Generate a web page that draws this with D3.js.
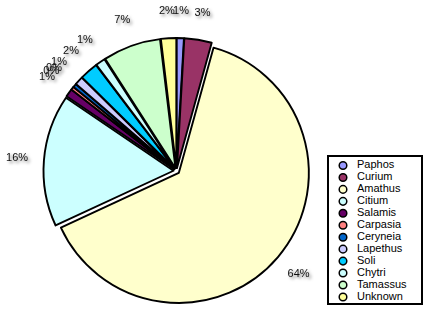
<!DOCTYPE html>
<html><head><meta charset="utf-8">
<script src="https://cdn.jsdelivr.net/npm/d3@7"></script>
<style>body{margin:0;background:#fff}svg{display:block}</style>
</head><body>
<script>
const categories = ["Paphos","Curium","Amathus","Citium","Salamis","Carpasia","Ceryneia","Lapethus","Soli","Chytri","Tamassus","Unknown"];
const values = [0.9,3.4,63.75,16.4,1.0,0.4,0.45,1.05,2.3,1.2,7.2,1.9];
const labels = ["1%","3%","64%","16%","1%","0%","0%","1%","2%","1%","7%","2%"];
const colors = ["#9999FF","#993366","#FFFFCC","#CCFFFF","#660066","#FF8080","#0066CC","#CCCCFF","#00CCFF","#CCFFFF","#CCFFCC","#FFFF99"];

const W = 430, H = 315;
const cx = 176.5, cy = 171, R = 130, explode = 3, labelR = 160;
const svg = d3.select("body").append("svg").attr("width", W).attr("height", H);
const defs = svg.append("defs");
const f = defs.append("filter").attr("id","ts").attr("x","-50%").attr("y","-50%").attr("width","200%").attr("height","200%");
f.append("feDropShadow").attr("dx",2).attr("dy",2).attr("stdDeviation",1.8).attr("flood-color","#000").attr("flood-opacity",0.5);

const data = categories.map((c,i)=>({name:c, value:values[i], label:labels[i], color:colors[i]}));
const pie = d3.pie().sort(null).value(d=>d.value);
const arcs = pie(data);
const arc = d3.arc().innerRadius(0).outerRadius(R);
const g = svg.append("g").attr("transform", `translate(${cx},${cy})`);
g.selectAll("path").data(arcs).join("path")
  .attr("d", arc)
  .attr("fill", d=>d.data.color)
  .attr("stroke", "#000").attr("stroke-width", 1.9).attr("stroke-linejoin","round")
  .attr("transform", d=>{const a=(d.startAngle+d.endAngle)/2; return `translate(${explode*Math.sin(a)},${-explode*Math.cos(a)})`;});

g.selectAll("text.lab").data(arcs).join("text").attr("class","lab")
  .attr("x", d=>{const a=(d.startAngle+d.endAngle)/2; return labelR*Math.sin(a);})
  .attr("y", d=>{const a=(d.startAngle+d.endAngle)/2; return -labelR*Math.cos(a);})
  .attr("text-anchor","middle").attr("dominant-baseline","middle")
  .attr("font-family","Liberation Sans, Arial, sans-serif").attr("font-size",11).attr("fill","#111")
  .attr("filter","url(#ts)")
  .text(d=>d.data.label);

// legend
const lx = 328, ly = 156, lw = 94, lh = 148;
const leg = svg.append("g");
leg.append("rect").attr("x",lx).attr("y",ly).attr("width",lw).attr("height",lh).attr("fill","#fff").attr("stroke","#000").attr("stroke-width",2);
const rowY = d3.scaleLinear().domain([0, categories.length-1]).range([ly+9.5, ly+9.5+11.95*(categories.length-1)]);
const items = leg.selectAll("g.it").data(data).join("g").attr("class","it");
items.append("circle").attr("cx", lx+15).attr("cy",(d,i)=>rowY(i)).attr("r",3.8)
  .attr("fill",d=>d.color).attr("stroke","#000").attr("stroke-width",1.5);
items.append("text").attr("x", lx+29).attr("y",(d,i)=>rowY(i)).attr("dominant-baseline","middle")
  .attr("font-family","Liberation Sans, Arial, sans-serif").attr("font-size",11).attr("fill","#000")
  .text(d=>d.name);
</script>
</body></html>
